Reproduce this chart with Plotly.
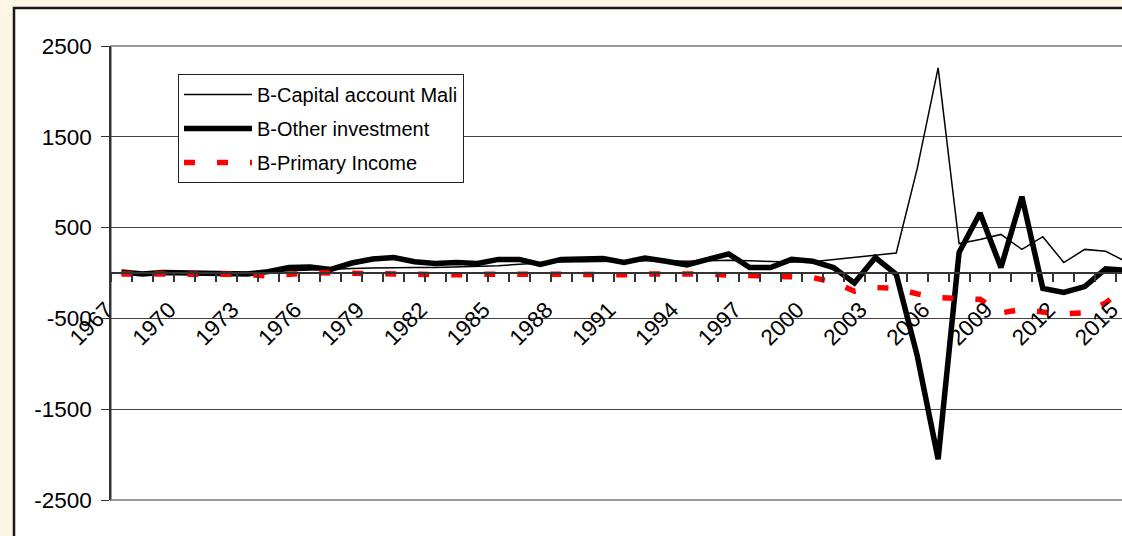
import plotly.graph_objects as go

years = list(range(1967, 2016))

capital_account = [5, 5, 10, 10, 10, 10, 5, 10, 25, 35,
                   40, 50, 55, 60, 60, 60, 65, 70, 80, 95,
                   110, 120, 125, 130, 130, 135, 135, 130, 135, 140,
                   135, 125, 120, 125, 150, 170, 195, 220, 1150, 2260,
                   325, 370, 425, 260, 400, 115, 260, 240, 120]

other_investment = [10, -10, 5, 5, 5, -5, -10, 15, 60, 65,
                    40, 110, 155, 170, 125, 105, 115, 105, 150, 150,
                    95, 150, 150, 160, 115, 165, 130, 90, 150, 210,
                    60, 60, 150, 130, 60, -110, 170, -15, -910, -2050,
                    225, 660, 60, 840, -170, -215, -150, 45, 30]

primary_income = [-10, -10, -10, -10, -10, -10, -15, -35, -15, 5,
                  0, -5, -10, -20, -15, -25, -20, -15, -10, -20,
                  -15, -15, -20, -15, -20, -10, -5, -10, -15, -25,
                  -40, -35, -40, -50, -100, -200, -160, -170, -230, -270,
                  -280, -290, -440, -400, -430, -450, -440, -330, -150]

label_years = list(range(1967, 2016, 3))
y_ticks = [-2500, -1500, -500, 500, 1500, 2500]
y_tick_text = ["-2500", "-1500", "-500", "500", "1500", "2500"]

FONT = "Liberation Sans, Arial, sans-serif"

FIG_W, FIG_H = 1200, 536
M_L, M_R, M_T, M_B = 111, 0, 46, 36
PW = FIG_W - M_L - M_R
PH = FIG_H - M_T - M_B
px_per_year = 20.94
x_start = 1966.5
x_end = x_start + PW / px_per_year

fig = go.Figure()
fig.add_trace(go.Scatter(x=years, y=capital_account, mode="lines",
                         name="B-Capital account Mali", legendgroup="a",
                         line=dict(color="black", width=1.5)))
fig.add_trace(go.Scatter(x=years, y=other_investment, mode="lines",
                         name="B-Other investment", legendgroup="b",
                         line=dict(color="black", width=5.5)))
fig.add_trace(go.Scatter(x=years, y=primary_income, mode="lines",
                         name="B-Primary Income", legendgroup="c",
                         line=dict(color="#FF0000", width=5.5, dash="11px,22px")))

def px_x(p):
    return (p - M_L) / PW

def px_y(p):
    return (FIG_H - M_B - p) / PH

fig.update_layout(
    width=FIG_W, height=FIG_H,
    margin=dict(l=M_L, r=M_R, t=M_T, b=M_B, pad=0),
    paper_bgcolor="#FDF6E4",
    plot_bgcolor="white",
    font=dict(family=FONT, color="black"),
    showlegend=True,
    legend=dict(x=px_x(178), y=px_y(74), xanchor="left", yanchor="top",
                bgcolor="white", bordercolor="#222", borderwidth=1,
                font=dict(size=20, family=FONT), itemwidth=68,
                traceorder="grouped", tracegroupgap=5),
    xaxis=dict(range=[x_start, x_end], tickmode="array",
               tickvals=label_years, ticktext=[str(y) for y in label_years],
               tickangle=-45, ticks="", showgrid=False, zeroline=False,
               showline=True, linecolor="#333", linewidth=1.5,
               anchor="free", position=0.5,
               ticklabelstandoff=14, ticklabelshift=-15,
               tickfont=dict(size=22.5, family=FONT),
               minor=dict(tickmode="linear", tick0=1966.5, dtick=1,
                          ticks="outside", ticklen=8, tickcolor="#333",
                          tickwidth=1.5, showgrid=False)),
    yaxis=dict(range=[-2500, 2500], tickmode="array", tickvals=y_ticks,
               ticktext=y_tick_text,
               ticks="outside", ticklen=8, tickcolor="#333",
               ticklabelstandoff=5,
               showgrid=True, gridcolor="#444", gridwidth=1,
               zeroline=False, showline=True, linecolor="#333", linewidth=1.5,
               tickfont=dict(size=22.5, family=FONT)),
    shapes=[
        dict(type="rect", xref="paper", yref="paper",
             x0=px_x(14), x1=1.2, y0=px_y(8), y1=-0.3,
             line=dict(color="#1a1a1a", width=2.5), fillcolor="white",
             layer="below"),
        dict(type="rect", xref="paper", yref="paper",
             x0=0, x1=1, y0=0, y1=1,
             line=dict(color="#999", width=2), layer="below"),
    ],
)

fig.write_html("out.html", config={"displayModeBar": False},
               post_script="document.body.style.margin='0';document.body.style.overflow='hidden';")
